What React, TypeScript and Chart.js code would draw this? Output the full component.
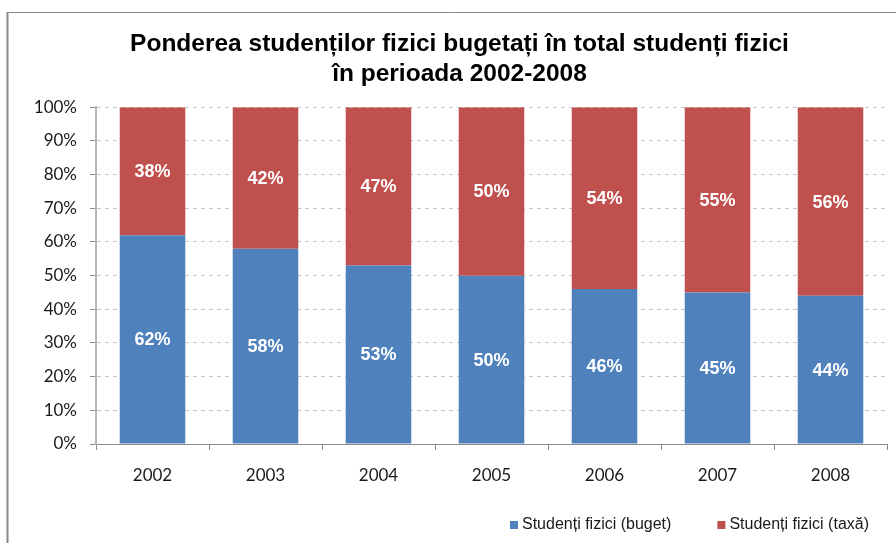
import React, { useEffect, useRef } from "react";
import { Chart, registerables } from "chart.js";

Chart.register(...registerables);

const titleLines = ["Ponderea studenților fizici bugetați în total studenți fizici", "în perioada 2002-2008"];
const years = ["2002", "2003", "2004", "2005", "2006", "2007", "2008"];
const bugetLabel = "Studenți fizici (buget)";
const taxaLabel = "Studenți fizici (taxă)";
const bugetValues = [62, 58, 53, 50, 46, 45, 44];
const taxaValues = [38, 42, 47, 50, 54, 55, 56];
const yTickStep = 10;

const BLUE = "#4F81BD";
const RED = "#C0504D";

const framePlugin = {
  id: "frame",
  beforeDraw(chart: any) {
    const ctx = chart.ctx;
    ctx.save();
    ctx.fillStyle = "#ffffff";
    ctx.fillRect(0, 0, chart.width, chart.height);
    ctx.strokeStyle = "#8a8a8a";
    ctx.lineWidth = 1;
    ctx.beginPath();
    ctx.moveTo(7, 12.5);
    ctx.lineTo(chart.width, 12.5);
    ctx.stroke();
    ctx.lineWidth = 2;
    ctx.beginPath();
    ctx.moveTo(7.5, 12);
    ctx.lineTo(7.5, chart.height);
    ctx.stroke();
    ctx.restore();
  },
};

const valueLabelPlugin = {
  id: "valueLabels",
  afterDatasetsDraw(chart: any) {
    const ctx = chart.ctx;
    ctx.save();
    ctx.fillStyle = "#ffffff";
    ctx.font = "bold 18px 'Liberation Sans', Arial, sans-serif";
    ctx.textAlign = "center";
    ctx.textBaseline = "middle";
    chart.data.datasets.forEach((ds: any, di: number) => {
      const meta = chart.getDatasetMeta(di);
      meta.data.forEach((bar: any, i: number) => {
        const c = bar.getCenterPoint();
        ctx.fillText(ds.data[i] + "%", c.x, c.y + 1);
      });
    });
    ctx.restore();
  },
};

const legendPlugin = {
  id: "customLegend",
  afterDraw(chart: any) {
    const ctx = chart.ctx;
    ctx.save();
    ctx.font = "16px 'Liberation Sans', Arial, sans-serif";
    ctx.textBaseline = "middle";
    ctx.textAlign = "left";
    const items = chart.data.datasets.map((ds: any) => ({ text: ds.label, color: ds.backgroundColor }));
    const box = 8;
    const boxGap = 4;
    const itemGap = 46;
    const widths = items.map((it: any) => box + boxGap + ctx.measureText(it.text).width);
    const total = widths.reduce((a: number, b: number) => a + b, 0) + itemGap * (items.length - 1);
    let x = chart.chartArea.right - 18 - total;
    const y = 525;
    items.forEach((it: any, i: number) => {
      ctx.fillStyle = it.color;
      ctx.fillRect(x, y - box / 2, box, box);
      ctx.fillStyle = "#1a1a1a";
      ctx.fillText(it.text, x + box + boxGap, y);
      x += widths[i] + itemGap;
    });
    ctx.restore();
  },
};

export default function App() {
  const ref = useRef<HTMLCanvasElement>(null);
  useEffect(() => {
    if (!ref.current) return;
    const chart = new Chart(ref.current, {
      type: "bar",
      data: {
        labels: years,
        datasets: [
          { label: bugetLabel, data: bugetValues, backgroundColor: BLUE, borderWidth: 0 },
          { label: taxaLabel, data: taxaValues, backgroundColor: RED, borderWidth: 0 },
        ],
      },
      options: {
        animation: false,
        responsive: false,
        devicePixelRatio: 1,
        layout: { padding: { top: 12, left: 32, right: 9, bottom: 0 } },
        datasets: { bar: { categoryPercentage: 0.58, barPercentage: 1 } },
        plugins: {
          legend: { display: false },
          tooltip: { enabled: false },
          title: {
            display: true,
            text: titleLines,
            color: "#000000",
            font: { family: "'Liberation Sans', Arial, sans-serif", size: 24.5, weight: "bold", lineHeight: 1.23 },
            padding: { top: 17, bottom: 18 },
          },
        },
        scales: {
          x: {
            stacked: true,
            offset: true,
            afterFit(scale: any) {
              scale.height = 99;
            },
            border: { display: true, color: "#8c8c8c", width: 1 },
            grid: { display: true, drawOnChartArea: false, offset: true, tickLength: 6, color: "#8c8c8c", tickColor: "#8c8c8c" },
            ticks: { color: "#1a1a1a", font: { family: "Lato, 'Open Sans', sans-serif", size: 17 }, padding: 15 },
          },
          y: {
            stacked: true,
            min: 0,
            max: 100,
            afterFit(scale: any) {
              scale.width = 64;
            },
            border: { display: true, color: "#b8b8b8", width: 2, dash: [4, 4] },
            grid: { color: "#c4c4c4", tickLength: 6, tickColor: "#8c8c8c", tickBorderDash: [] as any },
            ticks: {
              stepSize: yTickStep,
              color: "#1a1a1a",
              font: { family: "Lato, 'Open Sans', sans-serif", size: 17 },
              padding: 13,
              callback: (v: any) => v + "%",
            },
          },
        },
      } as any,
      plugins: [framePlugin, valueLabelPlugin, legendPlugin],
    });
    return () => chart.destroy();
  }, []);
  return (
    <div style={{ position: "fixed", left: 0, top: 0, width: 896, height: 543, background: "#fff" }}>
      <canvas ref={ref} width={896} height={543} style={{ display: "block", width: 896, height: 543 }} />
    </div>
  );
}
